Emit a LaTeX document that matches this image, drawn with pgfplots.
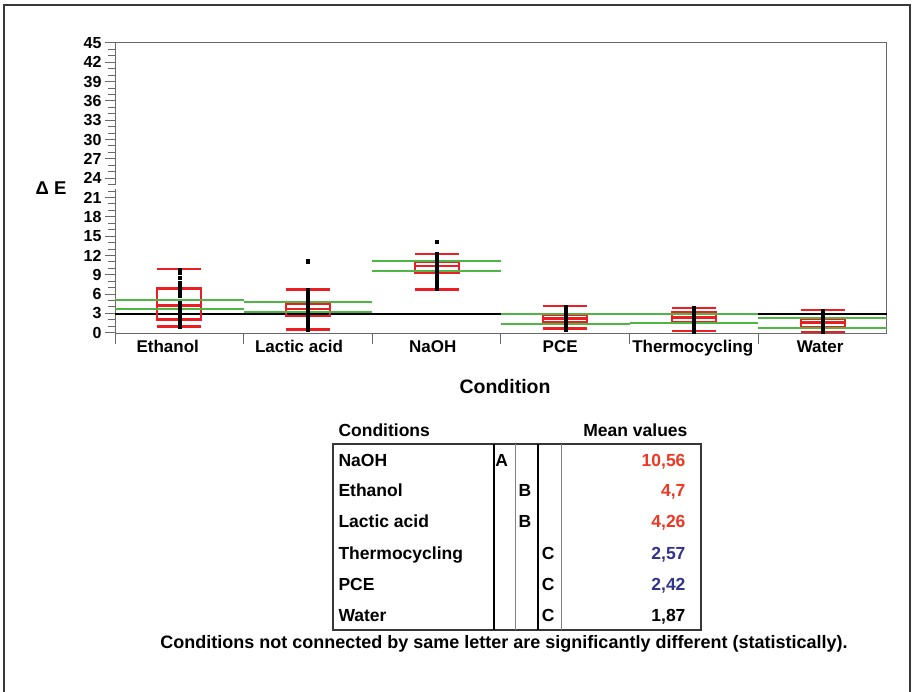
\documentclass[border=0pt]{standalone}
\usepackage{fontspec}
\setmainfont{Liberation Sans}
\usepackage{pgfplots}
\pgfplotsset{compat=1.18}

\definecolor{boxred}{RGB}{235,30,36}
\definecolor{meangreen}{RGB}{78,182,68}
\definecolor{axisgray}{RGB}{105,105,105}
\definecolor{valred}{RGB}{238,56,36}
\definecolor{valblue}{RGB}{48,52,140}
\definecolor{framegray}{RGB}{55,55,55}

% upper and lower mean lines per condition
\pgfplotstableread{
x y
0 5.05
0 3.65
1 4.74
1 3.23
2 11.10
2 9.55
3 2.83
3 1.32
4 2.98
4 1.52
5 2.30
5 0.80
}\meanlines

% whisker ends and medians per condition
\pgfplotstableread{
x y
0 9.86
0 4.22
0 0.96
1 6.70
1 3.65
1 0.50
2 12.20
2 10.40
2 6.70
3 4.15
3 2.20
3 0.65
4 3.85
4 2.36
4 0.23
5 3.50
5 1.58
5 0.10
}\quantlines

% individual measurements
\pgfplotstableread{
x y
0 9.8
0 9.3
0 8.6
0 7.7
0 7.3
0 6.9
0 6.5
0 6.1
0 5.7
0 4.6
0 4.3
0 4.0
0 3.7
0 3.4
0 3.1
0 2.8
0 2.5
0 2.2
0 1.9
0 1.6
0 1.3
0 0.9
1 11.1
1 6.7
1 6.2
1 5.6
1 5.0
1 4.7
1 4.4
1 4.1
1 3.8
1 3.5
1 3.2
1 2.9
1 2.6
1 2.2
1 1.8
1 1.4
1 1.0
1 0.5
2 14.1
2 12.2
2 11.9
2 11.6
2 11.3
2 11.0
2 10.7
2 10.4
2 10.1
2 9.8
2 9.5
2 9.1
2 8.7
2 8.3
2 7.8
2 7.3
2 6.8
3 4.1
3 3.8
3 3.5
3 3.2
3 2.9
3 2.6
3 2.3
3 2.0
3 1.7
3 1.4
3 1.1
3 0.8
3 0.5
4 3.8
4 3.5
4 3.2
4 2.9
4 2.6
4 2.3
4 2.0
4 1.7
4 1.4
4 1.1
4 0.8
4 0.2
5 3.4
5 3.1
5 2.8
5 2.5
5 2.2
5 1.9
5 1.6
5 1.3
5 1.0
5 0.7
5 0.4
5 0.1
}\points

\newcommand{\tabfont}{\fontsize{17.5}{20}\selectfont\bfseries}

\begin{document}
\begin{tikzpicture}
\begin{scope}[x=1pt,y=1pt]
\path[use as bounding box] (0,0) rectangle (914,692);
% outer frame
\draw[framegray, line width=2.5] (4,0) -- (4,687) -- (910,687) -- (910,0);
\end{scope}

\begin{axis}[
  at={(115pt,358pt)}, anchor=south west,
  scale only axis, width=772pt, height=291pt,
  xmin=-0.5, xmax=5.5, ymin=-0.2, ymax=45,
  clip=false,
  axis line style={axisgray, line width=1},
  tick style={axisgray, line width=1},
  tick align=outside,
  major tick length=10pt, minor tick length=7pt,
  xtick pos=bottom, ytick pos=left,
  xtick={-0.5,0.5,1.5,2.5,3.5,4.5},
  xticklabels={},
  extra x ticks={-0.09,0.93,1.97,2.96,3.99,4.98},
  extra x tick labels={Ethanol,Lactic acid,NaOH,PCE,Thermocycling,Water},
  extra x tick style={major tick length=0pt,
    tick label style={font=\fontsize{17}{20}\selectfont\bfseries, yshift=-3}},
  ytick={0,3,...,45}, minor y tick num=2,
  y tick label style={font=\fontsize{16}{18}\selectfont\bfseries},
  /pgf/number format/assume math mode=true,
  xlabel={Condition},
  xlabel style={font=\fontsize{19.5}{22}\selectfont\bfseries,
    at={(axis description cs:0.5,0)}, anchor=center, yshift=-53, xshift=4},
  ylabel={Δ E},
  ylabel style={font=\fontsize{18.5}{20}\selectfont\bfseries, rotate=-90,
    at={(axis description cs:0,0.502)}, anchor=center, xshift=-64},
  box/.style={boxred, line width=2.2, line join=miter},
]
% overall reference line
\addplot[black, line width=1.8] coordinates {(-0.5,2.95) (5.5,2.95)};
% break in the value axis
\addplot[white, line width=3] coordinates {(-0.5,22.3) (-0.5,22.9)};
% mean lines
\addplot[only marks, mark=-, mark size=64.33, mark options={meangreen, line width=2}] table {\meanlines};
% quartile boxes (lower to upper quartile)
\addplot[box] coordinates {(-0.171,2.05) (0.171,2.05) (0.171,6.86) (-0.171,6.86) (-0.171,2.05)} -- cycle;
\addplot[box] coordinates {(0.829,2.56) (1.171,2.56) (1.171,4.53) (0.829,4.53) (0.829,2.56)} -- cycle;
\addplot[box] coordinates {(1.829,9.35) (2.171,9.35) (2.171,11.05) (1.829,11.05) (1.829,9.35)} -- cycle;
\addplot[box] coordinates {(2.829,1.68) (3.171,1.68) (3.171,2.83) (2.829,2.83) (2.829,1.68)} -- cycle;
\addplot[box] coordinates {(3.829,1.58) (4.171,1.58) (4.171,3.13) (3.829,3.13) (3.829,1.58)} -- cycle;
\addplot[box] coordinates {(4.829,0.90) (5.171,0.90) (5.171,2.20) (4.829,2.20) (4.829,0.90)} -- cycle;
% whisker caps and medians
\addplot[only marks, mark=-, mark size=22, mark options={boxred, line width=2.2}] table {\quantlines};
% measurements
\addplot[only marks, mark=square*, mark size=1.6, black] table {\points};
\end{axis}

\begin{scope}[x=1pt,y=1pt]
% connecting letters report
\node[anchor=base west, font=\tabfont] at (335,255.7) {Conditions};
\node[anchor=base east, font=\tabfont] at (691,255.7) {Mean values};
\draw[framegray, line width=1.2] (333,248) rectangle (701,62);
\draw[black, line width=1.5] (494,248) -- (494,62);
\draw[gray, line width=1] (515,248) -- (515,62);
\draw[black, line width=1.5] (538,248) -- (538,62);
\draw[gray, line width=1] (561,248) -- (561,62);
\foreach \yy/\cond/\col/\letter/\val/\vcol in {
  225.7/NaOH/501.7/A/{10,56}/valred,
  195.0/Ethanol/525/B/{4,7}/valred,
  164.0/Lactic acid/525/B/{4,26}/valred,
  132.4/Thermocycling/548.3/C/{2,57}/valblue,
  101.7/PCE/548.3/C/{2,42}/valblue,
  70.7/Water/548.3/C/{1,87}/black} {
  \node[anchor=base west, font=\tabfont] at (335,\yy) {\cond};
  \node[anchor=base, font=\tabfont] at (\col,\yy) {\letter};
  \node[anchor=base east, font=\tabfont, text=\vcol] at (689,\yy) {\val};
}
\node[anchor=base, font=\fontsize{18}{20}\selectfont\bfseries] at (504,43.3)
  {Conditions not connected by same letter are significantly different (statistically).};
\end{scope}
\end{tikzpicture}
\end{document}
